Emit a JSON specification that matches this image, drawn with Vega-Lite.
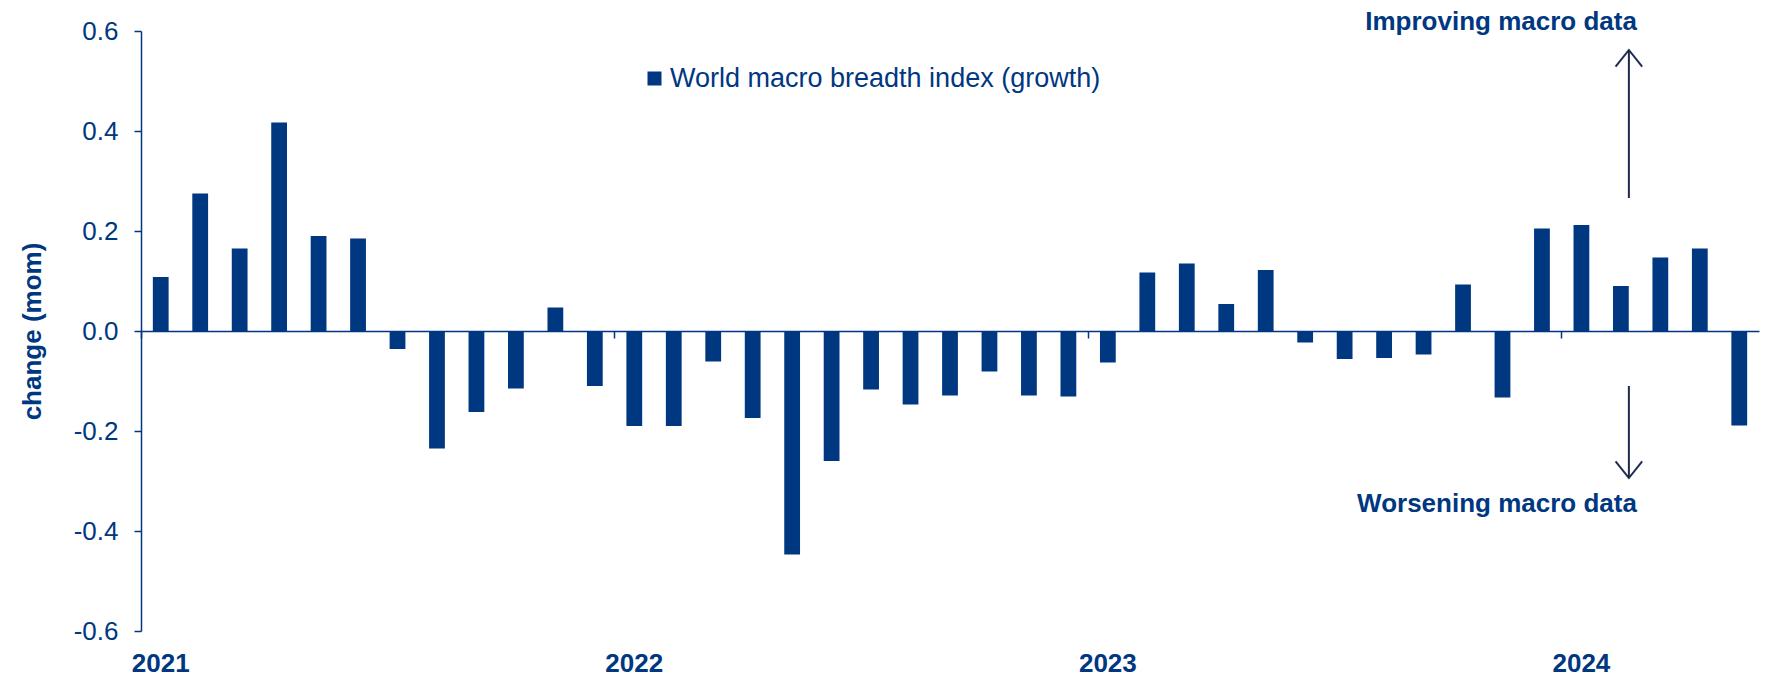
{
  "$schema": "https://vega.github.io/schema/vega-lite/v6.json",
  "width": 1618,
  "height": 600,
  "autosize": {"type": "none"},
  "padding": {"left": 141, "top": 31, "right": 8, "bottom": 45},
  "background": "white",
  "config": {
    "font": "Liberation Sans",
    "view": {"stroke": null},
    "axis": {"grid": false}
  },
  "datasets": {
    "bars": [
      {"month": "2021-01", "value": 0.108},
      {"month": "2021-02", "value": 0.275},
      {"month": "2021-03", "value": 0.165},
      {"month": "2021-04", "value": 0.417},
      {"month": "2021-05", "value": 0.19},
      {"month": "2021-06", "value": 0.185},
      {"month": "2021-07", "value": -0.036},
      {"month": "2021-08", "value": -0.235},
      {"month": "2021-09", "value": -0.162},
      {"month": "2021-10", "value": -0.115},
      {"month": "2021-11", "value": 0.047},
      {"month": "2021-12", "value": -0.11},
      {"month": "2022-01", "value": -0.19},
      {"month": "2022-02", "value": -0.19},
      {"month": "2022-03", "value": -0.061},
      {"month": "2022-04", "value": -0.174},
      {"month": "2022-05", "value": -0.447},
      {"month": "2022-06", "value": -0.26},
      {"month": "2022-07", "value": -0.117},
      {"month": "2022-08", "value": -0.147},
      {"month": "2022-09", "value": -0.129},
      {"month": "2022-10", "value": -0.081},
      {"month": "2022-11", "value": -0.129},
      {"month": "2022-12", "value": -0.131},
      {"month": "2023-01", "value": -0.063},
      {"month": "2023-02", "value": 0.117},
      {"month": "2023-03", "value": 0.135},
      {"month": "2023-04", "value": 0.054},
      {"month": "2023-05", "value": 0.122},
      {"month": "2023-06", "value": -0.023},
      {"month": "2023-07", "value": -0.056},
      {"month": "2023-08", "value": -0.054},
      {"month": "2023-09", "value": -0.047},
      {"month": "2023-10", "value": 0.093},
      {"month": "2023-11", "value": -0.133},
      {"month": "2023-12", "value": 0.205},
      {"month": "2024-01", "value": 0.212},
      {"month": "2024-02", "value": 0.09},
      {"month": "2024-03", "value": 0.147},
      {"month": "2024-04", "value": 0.165},
      {"month": "2024-05", "value": -0.189}
    ],
    "arrows": [
      {"month": "2024-02", "from": 0.266, "to": 0.562, "dir": "up"},
      {"month": "2024-02", "from": -0.11, "to": -0.294, "dir": "down"}
    ],
    "notes": [
      {"month": "2024-02", "v": 0.618, "label": "Improving macro data"},
      {"month": "2024-02", "v": -0.346, "label": "Worsening macro data"}
    ]
  },
  "resolve": {"axis": {"x": "independent", "y": "independent"}},
  "layer": [
    {
      "data": {"name": "bars"},
      "mark": {"type": "bar"},
      "encoding": {
        "x": {
          "field": "month", "type": "ordinal", "sort": "ascending",
          "scale": {"paddingInner": 0.6, "paddingOuter": 0.3},
          "axis": {
            "orient": "bottom", "offset": -300, "title": null,
            "values": ["2021-01", "2022-01", "2023-01", "2024-01"],
            "bandPosition": -0.75,
            "labels": false, "domain": true, "domainColor": "#003781", "domainWidth": 1.5,
            "ticks": true, "tickSize": 7, "tickColor": "#003781", "tickWidth": 1.5
          }
        },
        "y": {
          "field": "value", "type": "quantitative",
          "scale": {"domain": [-0.6, 0.6], "nice": false, "zero": false},
          "axis": {
            "orient": "left",
            "title": "change (mom)", "titleFontSize": 26, "titleFontWeight": "bold", "titleColor": "#003781", "titlePadding": 28,
            "values": [-0.6, -0.4, -0.2, 0, 0.2, 0.4, 0.6],
            "labelExpr": "(datum.value < -0.0001 ? '-' : '') + format(abs(datum.value), '.1f')",
            "labelFontSize": 26, "labelColor": "#003781", "labelPadding": 16,
            "domain": true, "domainColor": "#003781", "domainWidth": 1.5,
            "ticks": true, "tickColor": "#003781", "tickWidth": 1.5, "tickSize": 7
          }
        },
        "color": {
          "datum": "World macro breadth index (growth)", "type": "nominal",
          "scale": {"range": ["#003781"]},
          "legend": {
            "orient": "none", "legendX": 500, "legendY": 34, "title": null,
            "symbolType": "square", "symbolSize": 196, "symbolStrokeWidth": 0,
            "labelFontSize": 27, "labelColor": "#003781", "labelOffset": 2, "padding": 0,
            "labelLimit": 800
          }
        }
      }
    },
    {
      "data": {"name": "arrows"},
      "mark": {"type": "rule", "color": "#1b2a4f", "strokeWidth": 2, "xOffset": 8},
      "encoding": {
        "x": {
          "field": "month", "type": "ordinal", "sort": "ascending",
          "axis": {
            "orient": "bottom", "title": null,
            "values": ["2021-01", "2022-01", "2023-01", "2024-01"],
            "labelExpr": "substring(datum.value, 0, 4)",
            "labelAngle": 0, "labelAlign": "center",
            "domain": false, "ticks": false,
            "labelFontSize": 26, "labelFontWeight": "bold", "labelColor": "#003781",
            "labelPadding": 32, "labelBaseline": "middle"
          }
        },
        "y": {"field": "from", "type": "quantitative", "axis": null},
        "y2": {"field": "to"}
      }
    },
    {
      "data": {"name": "arrows"},
      "mark": {"type": "point", "filled": false, "stroke": "#1b2a4f", "strokeWidth": 2, "xOffset": 8, "opacity": 1},
      "encoding": {
        "x": {"field": "month", "type": "ordinal", "sort": "ascending", "axis": null},
        "y": {"field": "to", "type": "quantitative", "axis": null},
        "shape": {
          "field": "dir", "type": "nominal",
          "scale": {"domain": ["up", "down"], "range": ["M-1,1.25L0,0L1,1.25", "M-1,-1.25L0,0L1,-1.25"]},
          "legend": null
        },
        "size": {"value": 708}
      }
    },
    {
      "data": {"name": "notes"},
      "mark": {"type": "text", "align": "right", "baseline": "middle", "dx": 16, "fontSize": 26, "fontWeight": "bold", "color": "#003781"},
      "encoding": {
        "x": {"field": "month", "type": "ordinal", "sort": "ascending", "axis": null},
        "y": {"field": "v", "type": "quantitative", "axis": null},
        "text": {"field": "label"}
      }
    }
  ]
}
